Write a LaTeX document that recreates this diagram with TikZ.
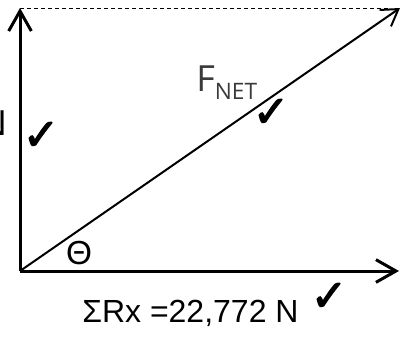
\documentclass[tikz,border=0pt]{standalone}
\usepackage{fontspec}
\setmainfont{Liberation Sans}
\newfontfamily\symfont[FakeBold=2.5]{DejaVu Sans}
\newfontfamily\netfont{Open Sans}
\usetikzlibrary{arrows.meta}
\definecolor{netgray}{HTML}{3A3A3A}
\tikzset{
  axis/.style={line width=2.25pt, -{Straight Barb[length=15pt,width=17pt,line width=2.25pt]}},
  resultant/.style={line width=1.5pt, -{Straight Barb[length=12pt,width=15pt,line width=1.5pt]}},
  guide/.style={line width=0.75pt, dash pattern=on 3pt off 2.25pt},
  tick/.style={inner sep=0pt, font=\symfont\fontsize{33}{33}\selectfont},
  lbl/.style={inner sep=0pt}
}
\begin{document}
\begin{tikzpicture}[x=0.75pt,y=-0.75pt]
\useasboundingbox (0,0) rectangle (401,337);
\coordinate (O) at (20,271);
\coordinate (Y) at (20,8);
\coordinate (X) at (399,271);
\coordinate (R) at (400,8);
\draw[guide] (Y) -- (388,8);
\draw[axis] (O) -- (Y);
\draw[axis] (O) -- (X);
\draw[resultant] (O) -- (R);
\node[lbl, anchor=base east, font=\fontsize{27}{27}\selectfont] (ny) at (7,135) {N};
\node[tick] (t1) at (41,136) {✓};
\node[tick] (t2) at (271,113) {✓};
\node[tick] (t3) at (329,297) {✓};
\node[lbl, font=\fontsize{25}{25}\selectfont] (th) at (79,253) {Θ};
\node[lbl, anchor=base west, text=netgray] (fn) at (196,91) {\netfont\fontsize{27}{27}\selectfont F\fontsize{17}{17}\selectfont\raisebox{-6pt}{NET}};
\node[lbl, anchor=base west, font=\fontsize{24}{24}\selectfont] (rx) at (82,322) {ΣRx =22,772 N};
\end{tikzpicture}
\end{document}
